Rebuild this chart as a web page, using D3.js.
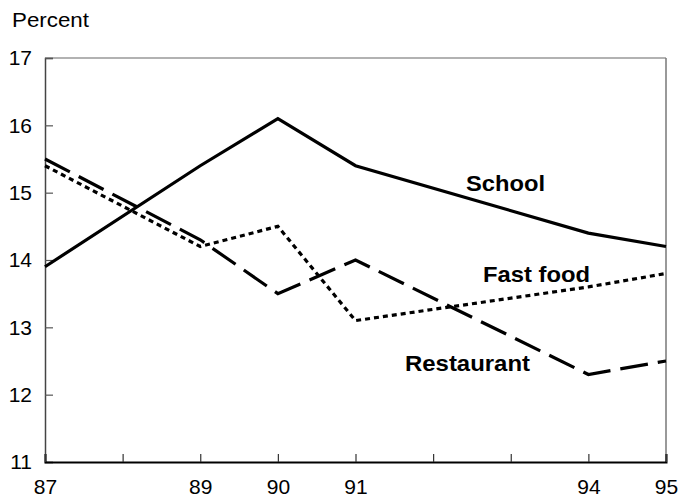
<!DOCTYPE html>
<html>
<head>
<meta charset="utf-8">
<script src="https://cdn.jsdelivr.net/npm/d3@7"></script>
<style>
  html, body { margin: 0; padding: 0; background: #fff; }
  svg { display: block; font-family: "Liberation Sans", Arial, sans-serif; }
</style>
</head>
<body>
<svg id="chart" width="682" height="499"></svg>
<script>
// ---- data ----
const years = [87, 89, 90, 91, 94, 95];
const school = [13.9, 15.4, 16.1, 15.4, 14.4, 14.2];
const fastFood = [15.4, 14.2, 14.5, 13.1, 13.6, 13.8];
const restaurant = [15.5, 14.3, 13.5, 14.0, 12.3, 12.5];
const xTicks = [87, 88, 89, 90, 91, 92, 93, 94, 95];
const xTickLabels = [87, 89, 90, 91, 94, 95];
const yTicks = [11, 12, 13, 14, 15, 16, 17];
const seriesNames = ["School", "Fast food", "Restaurant"];

const FONT = "'Liberation Sans', Arial, sans-serif";
const svg = d3.select("#chart");
const mLeft = 45, mRight = 666, mTop = 58, mBottom = 462;
const x = d3.scaleLinear().domain([87, 95]).range([mLeft, mRight]);
const y = d3.scaleLinear().domain([11, 17]).range([mBottom, mTop]);

// frame (top & right)
svg.append("line").attr("x1", mLeft).attr("x2", mRight).attr("y1", mTop).attr("y2", mTop)
  .attr("stroke", "#666").attr("stroke-width", 1.2);
svg.append("line").attr("x1", mRight).attr("x2", mRight).attr("y1", mTop).attr("y2", mBottom)
  .attr("stroke", "#777").attr("stroke-width", 1.5);

// y axis
const yAxis = d3.axisLeft(y).tickValues(yTicks).tickSize(-8).tickPadding(13).tickFormat(d3.format("d"));
const gy = svg.append("g").attr("transform", `translate(${mLeft},0)`).call(yAxis);
gy.attr("font-size", 21).attr("font-family", FONT);
gy.select(".domain").attr("stroke", "#444").attr("stroke-width", 1.5);
gy.selectAll(".tick line").attr("stroke", "#555").attr("stroke-width", 1.2);
gy.selectAll(".tick text").attr("font-size", 21).attr("fill", "#000");

// x axis
const xAxis = d3.axisBottom(x).tickValues(xTicks).tickSize(-8).tickPadding(17)
  .tickFormat(d => xTickLabels.includes(d) ? String(d) : "");
const gx = svg.append("g").attr("transform", `translate(0,${mBottom})`).call(xAxis);
gx.attr("font-size", 21).attr("font-family", FONT);
gx.select(".domain").attr("stroke", "#000").attr("stroke-width", 2);
gx.selectAll(".tick line").attr("stroke", "#333").attr("stroke-width", 1.2);
gx.selectAll(".tick text").attr("font-size", 21).attr("fill", "#000");

// y label
svg.append("text").attr("x", 12).attr("y", 27).attr("font-size", 21).attr("fill", "#000")
  .attr("font-family", FONT)
  .attr("textLength", 77).attr("lengthAdjust", "spacingAndGlyphs").text("Percent");

// lines
const line = d3.line().x((d, i) => x(years[i])).y(d => y(d));
const series = [
  { name: seriesNames[0], values: school, dash: null },
  { name: seriesNames[1], values: fastFood, dash: "5,4" },
  { name: seriesNames[2], values: restaurant, dash: "28,10" }
];
series.forEach(s => {
  svg.append("path").datum(s.values).attr("d", line)
    .attr("fill", "none").attr("stroke", "#000").attr("stroke-width", 3.2)
    .attr("stroke-dasharray", s.dash);
});

// series labels
const labelPos = [
  { x: 466, y: 191, w: 79 },
  { x: 483, y: 282, w: 107 },
  { x: 405, y: 371, w: 125 }
];
seriesNames.forEach((n, i) => {
  svg.append("text").attr("x", labelPos[i].x).attr("y", labelPos[i].y)
    .attr("font-size", 22).attr("font-weight", "bold").attr("fill", "#000")
    .attr("font-family", FONT)
    .attr("textLength", labelPos[i].w).attr("lengthAdjust", "spacingAndGlyphs")
    .text(n);
});
</script>
</body>
</html>
